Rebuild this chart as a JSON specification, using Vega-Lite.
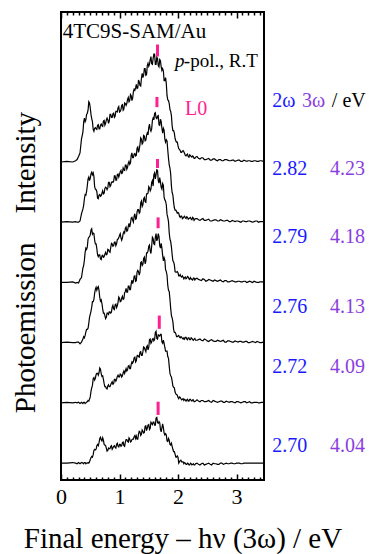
{
  "$schema": "https://vega.github.io/schema/vega-lite/v6.json",
  "width": 203,
  "height": 468,
  "autosize": {"type": "none"},
  "padding": {"left": 61, "top": 12, "right": 105, "bottom": 74},
  "background": "white",
  "config": {
    "view": {"stroke": "black", "strokeWidth": 2},
    "font": "Liberation Serif",
    "text": {"font": "Liberation Serif"}
  },
  "datasets": {
    "spectra": [
      {"x":0,"s0":0,"s1":0,"s2":0,"s3":0,"s4":0,"s5":0},
      {"x":0.1,"s0":0,"s1":0.01,"s2":0.01,"s3":0,"s4":0.01,"s5":0.01},
      {"x":0.2,"s0":0.01,"s1":0,"s2":0,"s3":0.01,"s4":0,"s5":0},
      {"x":0.25,"s0":0,"s1":0.01,"s2":0,"s3":-0.01,"s4":0.01,"s5":0.02},
      {"x":0.275,"s0":-0.01,"s1":0,"s2":0.01,"s3":0,"s4":0,"s5":0.04},
      {"x":0.3,"s0":0.01,"s1":0.01,"s2":0.01,"s3":-0.01,"s4":0,"s5":0.09},
      {"x":0.325,"s0":-0.01,"s1":-0.01,"s2":-0.02,"s3":0.05,"s4":0.02,"s5":0.15},
      {"x":0.35,"s0":0.01,"s1":0.01,"s2":0.01,"s3":0.08,"s4":0.14,"s5":0.38},
      {"x":0.375,"s0":0,"s1":-0.01,"s2":0.06,"s3":0.24,"s4":0.22,"s5":0.5},
      {"x":0.4,"s0":0.01,"s1":0.01,"s2":0.08,"s3":0.37,"s4":0.39,"s5":0.73},
      {"x":0.425,"s0":-0.01,"s1":0,"s2":0.18,"s3":0.57,"s4":0.45,"s5":0.7},
      {"x":0.45,"s0":0,"s1":0.02,"s2":0.22,"s3":0.59,"s4":0.61,"s5":0.81},
      {"x":0.475,"s0":0,"s1":0.03,"s2":0.32,"s3":0.75,"s4":0.75,"s5":1.0},
      {"x":0.5,"s0":0.06,"s1":0.1,"s2":0.47,"s3":0.79,"s4":0.73,"s5":0.9},
      {"x":0.525,"s0":0.11,"s1":0.25,"s2":0.59,"s3":0.89,"s4":0.83,"s5":0.72},
      {"x":0.55,"s0":0.14,"s1":0.4,"s2":0.68,"s3":0.82,"s4":0.82,"s5":0.54},
      {"x":0.575,"s0":0.23,"s1":0.38,"s2":0.82,"s3":0.7,"s4":0.59,"s5":0.56},
      {"x":0.6,"s0":0.23,"s1":0.47,"s2":0.92,"s3":0.64,"s4":0.54,"s5":0.55},
      {"x":0.625,"s0":0.31,"s1":0.49,"s2":0.91,"s3":0.46,"s4":0.4,"s5":0.61},
      {"x":0.65,"s0":0.34,"s1":0.5,"s2":0.87,"s3":0.46,"s4":0.45,"s5":0.55},
      {"x":0.675,"s0":0.43,"s1":0.56,"s2":0.69,"s3":0.39,"s4":0.43,"s5":0.61},
      {"x":0.7,"s0":0.37,"s1":0.44,"s2":0.65,"s3":0.44,"s4":0.48,"s5":0.6},
      {"x":0.725,"s0":0.38,"s1":0.39,"s2":0.49,"s3":0.42,"s4":0.47,"s5":0.68},
      {"x":0.75,"s0":0.3,"s1":0.27,"s2":0.45,"s3":0.47,"s4":0.56,"s5":0.61},
      {"x":0.775,"s0":0.25,"s1":0.24,"s2":0.42,"s3":0.46,"s4":0.57,"s5":0.7},
      {"x":0.8,"s0":0.21,"s1":0.28,"s2":0.49,"s3":0.55,"s4":0.57,"s5":0.7},
      {"x":0.825,"s0":0.24,"s1":0.27,"s2":0.51,"s3":0.51,"s4":0.66,"s5":0.68},
      {"x":0.85,"s0":0.28,"s1":0.3,"s2":0.49,"s3":0.58,"s4":0.61,"s5":0.79},
      {"x":0.875,"s0":0.23,"s1":0.35,"s2":0.59,"s3":0.64,"s4":0.67,"s5":0.74},
      {"x":0.9,"s0":0.28,"s1":0.32,"s2":0.56,"s3":0.61,"s4":0.68,"s5":0.81},
      {"x":0.925,"s0":0.26,"s1":0.39,"s2":0.63,"s3":0.67,"s4":0.77,"s5":0.76},
      {"x":0.95,"s0":0.31,"s1":0.39,"s2":0.58,"s3":0.64,"s4":0.7,"s5":0.84},
      {"x":0.975,"s0":0.28,"s1":0.46,"s2":0.67,"s3":0.72,"s4":0.8,"s5":0.9},
      {"x":1.0,"s0":0.31,"s1":0.43,"s2":0.74,"s3":0.78,"s4":0.79,"s5":0.83},
      {"x":1.025,"s0":0.28,"s1":0.47,"s2":0.69,"s3":0.74,"s4":0.86,"s5":0.87},
      {"x":1.05,"s0":0.34,"s1":0.45,"s2":0.77,"s3":0.74,"s4":0.82,"s5":0.95},
      {"x":1.075,"s0":0.29,"s1":0.53,"s2":0.73,"s3":0.84,"s4":0.87,"s5":0.88},
      {"x":1.1,"s0":0.35,"s1":0.53,"s2":0.85,"s3":0.9,"s4":0.95,"s5":0.97},
      {"x":1.125,"s0":0.39,"s1":0.53,"s2":0.84,"s3":0.85,"s4":0.88,"s5":0.97},
      {"x":1.15,"s0":0.35,"s1":0.61,"s2":0.94,"s3":0.93,"s4":0.98,"s5":1.07},
      {"x":1.175,"s0":0.4,"s1":0.57,"s2":0.88,"s3":0.92,"s4":0.96,"s5":1.02},
      {"x":1.2,"s0":0.36,"s1":0.64,"s2":0.98,"s3":1.07,"s4":1.11,"s5":1.1},
      {"x":1.225,"s0":0.4,"s1":0.66,"s2":0.98,"s3":1.03,"s4":1.07,"s5":1.06},
      {"x":1.25,"s0":0.44,"s1":0.75,"s2":1.1,"s3":1.1,"s4":1.13,"s5":1.21},
      {"x":1.275,"s0":0.41,"s1":0.68,"s2":1.02,"s3":1.05,"s4":1.1,"s5":1.23},
      {"x":1.3,"s0":0.4,"s1":0.78,"s2":1.17,"s3":1.17,"s4":1.23,"s5":1.22},
      {"x":1.325,"s0":0.48,"s1":0.77,"s2":1.18,"s3":1.21,"s4":1.16,"s5":1.36},
      {"x":1.35,"s0":0.52,"s1":0.84,"s2":1.17,"s3":1.17,"s4":1.29,"s5":1.27},
      {"x":1.375,"s0":0.48,"s1":0.79,"s2":1.34,"s3":1.35,"s4":1.38,"s5":1.39},
      {"x":1.4,"s0":0.53,"s1":0.85,"s2":1.3,"s3":1.29,"s4":1.32,"s5":1.4},
      {"x":1.425,"s0":0.51,"s1":0.92,"s2":1.42,"s3":1.41,"s4":1.43,"s5":1.55},
      {"x":1.45,"s0":0.62,"s1":0.85,"s2":1.35,"s3":1.33,"s4":1.36,"s5":1.44},
      {"x":1.475,"s0":0.58,"s1":0.95,"s2":1.49,"s3":1.47,"s4":1.48,"s5":1.6},
      {"x":1.5,"s0":0.64,"s1":0.92,"s2":1.6,"s3":1.59,"s4":1.57,"s5":1.59},
      {"x":1.525,"s0":0.58,"s1":1.06,"s2":1.52,"s3":1.52,"s4":1.54,"s5":1.7},
      {"x":1.55,"s0":0.66,"s1":1.01,"s2":1.6,"s3":1.66,"s4":1.55,"s5":1.63},
      {"x":1.575,"s0":0.68,"s1":1.07,"s2":1.73,"s3":1.6,"s4":1.73,"s5":1.72},
      {"x":1.6,"s0":0.63,"s1":1.05,"s2":1.63,"s3":1.82,"s4":1.81,"s5":1.79},
      {"x":1.625,"s0":0.75,"s1":1.19,"s2":1.81,"s3":1.79,"s4":1.73,"s5":1.62},
      {"x":1.65,"s0":0.67,"s1":1.06,"s2":1.72,"s3":1.86,"s4":1.76,"s5":1.72},
      {"x":1.675,"s0":0.69,"s1":1.12,"s2":1.76,"s3":1.65,"s4":1.62,"s5":1.58},
      {"x":1.7,"s0":0.56,"s1":1.14,"s2":1.57,"s3":1.67,"s4":1.71,"s5":1.68},
      {"x":1.725,"s0":0.59,"s1":1.01,"s2":1.57,"s3":1.55,"s4":1.56,"s5":1.52},
      {"x":1.75,"s0":0.59,"s1":1.04,"s2":1.36,"s3":1.61,"s4":1.56,"s5":1.51},
      {"x":1.775,"s0":0.47,"s1":0.92,"s2":1.37,"s3":1.37,"s4":1.38,"s5":1.35},
      {"x":1.8,"s0":0.47,"s1":0.86,"s2":1.18,"s3":1.29,"s4":1.37,"s5":1.3},
      {"x":1.825,"s0":0.36,"s1":0.77,"s2":0.95,"s3":1.08,"s4":1.2,"s5":1.03},
      {"x":1.85,"s0":0.38,"s1":0.61,"s2":0.85,"s3":0.82,"s4":0.95,"s5":0.97},
      {"x":1.875,"s0":0.3,"s1":0.45,"s2":0.57,"s3":0.68,"s4":0.8,"s5":0.84},
      {"x":1.9,"s0":0.28,"s1":0.36,"s2":0.41,"s3":0.46,"s4":0.49,"s5":0.6},
      {"x":1.925,"s0":0.19,"s1":0.26,"s2":0.22,"s3":0.34,"s4":0.33,"s5":0.52},
      {"x":1.95,"s0":0.15,"s1":0.18,"s2":0.17,"s3":0.18,"s4":0.2,"s5":0.39},
      {"x":1.975,"s0":0.1,"s1":0.14,"s2":0.1,"s3":0.17,"s4":0.18,"s5":0.33},
      {"x":2.0,"s0":0.1,"s1":0.09,"s2":0.11,"s3":0.16,"s4":0.16,"s5":0.27},
      {"x":2.025,"s0":0.02,"s1":0.1,"s2":0.09,"s3":0.11,"s4":0.1,"s5":0.21},
      {"x":2.05,"s0":0.05,"s1":0.07,"s2":0.1,"s3":0.1,"s4":0.1,"s5":0.16},
      {"x":2.075,"s0":0.02,"s1":0.06,"s2":0.07,"s3":0.11,"s4":0.06,"s5":0.18},
      {"x":2.1,"s0":-0.01,"s1":0.04,"s2":0.08,"s3":0.06,"s4":0.09,"s5":0.17},
      {"x":2.125,"s0":0,"s1":0.05,"s2":0.09,"s3":0.09,"s4":0.07,"s5":0.11},
      {"x":2.15,"s0":-0.02,"s1":0.05,"s2":0.06,"s3":0.07,"s4":0.09,"s5":0.12},
      {"x":2.175,"s0":-0.01,"s1":0.03,"s2":0.08,"s3":0.09,"s4":0.05,"s5":0.09},
      {"x":2.2,"s0":-0.03,"s1":0.06,"s2":0.05,"s3":0.05,"s4":0.07,"s5":0.12},
      {"x":2.225,"s0":-0.01,"s1":0.04,"s2":0.08,"s3":0.06,"s4":0.05,"s5":0.09},
      {"x":2.25,"s0":-0.02,"s1":0.05,"s2":0.05,"s3":0.04,"s4":0.08,"s5":0.1},
      {"x":2.275,"s0":-0.03,"s1":0.02,"s2":0.06,"s3":0.07,"s4":0.03,"s5":0.06},
      {"x":2.3,"s0":-0.01,"s1":0.03,"s2":0.04,"s3":0.06,"s4":0.06,"s5":0.08},
      {"x":2.35,"s0":-0.02,"s1":0.03,"s2":0.05,"s3":0.05,"s4":0.04,"s5":0.06},
      {"x":2.4,"s0":-0.01,"s1":0.04,"s2":0.04,"s3":0.03,"s4":0.05,"s5":0.07},
      {"x":2.45,"s0":-0.03,"s1":0.02,"s2":0.06,"s3":0.05,"s4":0.03,"s5":0.04},
      {"x":2.5,"s0":-0.01,"s1":0.03,"s2":0.03,"s3":0.03,"s4":0.04,"s5":0.05},
      {"x":2.55,"s0":-0.02,"s1":0.02,"s2":0.04,"s3":0.04,"s4":0.02,"s5":0.03},
      {"x":2.6,"s0":0,"s1":0.04,"s2":0.03,"s3":0.02,"s4":0.03,"s5":0.05},
      {"x":2.65,"s0":-0.01,"s1":0.02,"s2":0.02,"s3":0.03,"s4":0.04,"s5":0.03},
      {"x":2.7,"s0":-0.02,"s1":0.02,"s2":0.03,"s3":0.03,"s4":0.02,"s5":0.04},
      {"x":2.75,"s0":0,"s1":0.03,"s2":0.03,"s3":0.02,"s4":0.03,"s5":0.02},
      {"x":2.8,"s0":-0.01,"s1":0.01,"s2":0.01,"s3":0.03,"s4":0.02,"s5":0.04},
      {"x":2.85,"s0":-0.01,"s1":0.02,"s2":0.03,"s3":0.01,"s4":0.03,"s5":0.03},
      {"x":2.9,"s0":0,"s1":0.02,"s2":0.02,"s3":0.02,"s4":0.01,"s5":0.02},
      {"x":2.95,"s0":-0.01,"s1":0.01,"s2":0.01,"s3":0.02,"s4":0.02,"s5":0.03},
      {"x":3.0,"s0":0,"s1":0.02,"s2":0.02,"s3":0.01,"s4":0.02,"s5":0.02},
      {"x":3.05,"s0":0,"s1":0.01,"s2":0.02,"s3":0.02,"s4":0.01,"s5":0.03},
      {"x":3.1,"s0":-0.01,"s1":0.01,"s2":0.01,"s3":0.01,"s4":0.02,"s5":0.01},
      {"x":3.15,"s0":0,"s1":0.02,"s2":0.02,"s3":0.02,"s4":0.01,"s5":0.02},
      {"x":3.2,"s0":0,"s1":0.01,"s2":0,"s3":0.01,"s4":0.02,"s5":0.02},
      {"x":3.25,"s0":0,"s1":0,"s2":0.01,"s3":0.01,"s4":0.01,"s5":0.01},
      {"x":3.3,"s0":0,"s1":0.01,"s2":0.01,"s3":0.02,"s4":0.01,"s5":0.02},
      {"x":3.35,"s0":0,"s1":0.01,"s2":0.02,"s3":0,"s4":0.02,"s5":0.01},
      {"x":3.4,"s0":0,"s1":0,"s2":0,"s3":0.01,"s4":0.01,"s5":0.02},
      {"x":3.46,"s0":0,"s1":0.01,"s2":0.01,"s3":0.01,"s4":0.01,"s5":0.01},
      {"x":0.3875,"s0":-0.01,"s1":0.01,"s2":0.1,"s3":0.28,"s4":0.28,"s5":0.66},
      {"x":0.4125,"s0":0.01,"s1":-0.01,"s2":0.12,"s3":0.5,"s4":0.46,"s5":0.67},
      {"x":0.4375,"s0":0,"s1":0.01,"s2":0.22,"s3":0.55,"s4":0.51,"s5":0.79},
      {"x":0.4625,"s0":0.01,"s1":0.04,"s2":0.24,"s3":0.72,"s4":0.72,"s5":0.86},
      {"x":0.4875,"s0":0.02,"s1":0.06,"s2":0.42,"s3":0.76,"s4":0.69,"s5":0.98},
      {"x":0.5125,"s0":0.09,"s1":0.19,"s2":0.52,"s3":0.87,"s4":0.8,"s5":0.79},
      {"x":0.5375,"s0":0.1,"s1":0.29,"s2":0.68,"s3":0.8,"s4":0.79,"s5":0.67},
      {"x":0.5625,"s0":0.21,"s1":0.42,"s2":0.72,"s3":0.81,"s4":0.76,"s5":0.51},
      {"x":0.5875,"s0":0.22,"s1":0.41,"s2":0.89,"s3":0.64,"s4":0.55,"s5":0.57},
      {"x":0.6125,"s0":0.29,"s1":0.49,"s2":0.87,"s3":0.56,"s4":0.51,"s5":0.54},
      {"x":0.6375,"s0":0.29,"s1":0.46,"s2":0.93,"s3":0.43,"s4":0.39,"s5":0.62},
      {"x":0.6625,"s0":0.41,"s1":0.58,"s2":0.75,"s3":0.46,"s4":0.46,"s5":0.55},
      {"x":0.6875,"s0":0.39,"s1":0.48,"s2":0.71,"s3":0.38,"s4":0.44,"s5":0.63},
      {"x":0.7125,"s0":0.42,"s1":0.45,"s2":0.56,"s3":0.45,"s4":0.52,"s5":0.59},
      {"x":0.7375,"s0":0.31,"s1":0.32,"s2":0.49,"s3":0.43,"s4":0.48,"s5":0.69},
      {"x":0.7625,"s0":0.29,"s1":0.27,"s2":0.4,"s3":0.5,"s4":0.58,"s5":0.64},
      {"x":0.7875,"s0":0.2,"s1":0.23,"s2":0.49,"s3":0.47,"s4":0.54,"s5":0.73},
      {"x":0.8125,"s0":0.25,"s1":0.3,"s2":0.47,"s3":0.54,"s4":0.66,"s5":0.64},
      {"x":0.8375,"s0":0.24,"s1":0.27,"s2":0.51,"s3":0.5,"s4":0.59,"s5":0.79},
      {"x":0.8625,"s0":0.29,"s1":0.33,"s2":0.51,"s3":0.65,"s4":0.66,"s5":0.74},
      {"x":0.8875,"s0":0.25,"s1":0.31,"s2":0.62,"s3":0.6,"s4":0.66,"s5":0.8},
      {"x":0.9125,"s0":0.29,"s1":0.39,"s2":0.55,"s3":0.67,"s4":0.77,"s5":0.74},
      {"x":0.9375,"s0":0.25,"s1":0.36,"s2":0.64,"s3":0.61,"s4":0.7,"s5":0.84},
      {"x":0.9625,"s0":0.33,"s1":0.44,"s2":0.61,"s3":0.71,"s4":0.79,"s5":0.83},
      {"x":0.9875,"s0":0.27,"s1":0.43,"s2":0.76,"s3":0.74,"s4":0.75,"s5":0.92},
      {"x":1.0125,"s0":0.31,"s1":0.48,"s2":0.68,"s3":0.81,"s4":0.84,"s5":0.84},
      {"x":1.0375,"s0":0.29,"s1":0.43,"s2":0.74,"s3":0.7,"s4":0.81,"s5":0.94},
      {"x":1.0625,"s0":0.35,"s1":0.5,"s2":0.72,"s3":0.81,"s4":0.9,"s5":0.86},
      {"x":1.0875,"s0":0.28,"s1":0.49,"s2":0.83,"s3":0.82,"s4":0.86,"s5":0.98},
      {"x":1.1125,"s0":0.39,"s1":0.57,"s2":0.9,"s3":0.92,"s4":0.95,"s5":0.94},
      {"x":1.1375,"s0":0.36,"s1":0.55,"s2":0.84,"s3":0.86,"s4":0.91,"s5":1.04},
      {"x":1.1625,"s0":0.42,"s1":0.62,"s2":0.94,"s3":0.98,"s4":1.01,"s5":1.0},
      {"x":1.1875,"s0":0.35,"s1":0.57,"s2":0.88,"s3":0.98,"s4":0.98,"s5":1.12},
      {"x":1.2125,"s0":0.39,"s1":0.68,"s2":1.04,"s3":1.08,"s4":1.15,"s5":1.02},
      {"x":1.2375,"s0":0.4,"s1":0.69,"s2":1.02,"s3":1.0,"s4":1.07,"s5":1.17},
      {"x":1.2625,"s0":0.46,"s1":0.76,"s2":1.11,"s3":1.14,"s4":1.14,"s5":1.19},
      {"x":1.2875,"s0":0.45,"s1":0.7,"s2":1.03,"s3":1.06,"s4":1.11,"s5":1.29},
      {"x":1.3125,"s0":0.4,"s1":0.79,"s2":1.2,"s3":1.21,"s4":1.25,"s5":1.23},
      {"x":1.3375,"s0":0.53,"s1":0.76,"s2":1.12,"s3":1.15,"s4":1.21,"s5":1.33},
      {"x":1.3625,"s0":0.46,"s1":0.85,"s2":1.33,"s3":1.32,"s4":1.4,"s5":1.26},
      {"x":1.3875,"s0":0.55,"s1":0.79,"s2":1.28,"s3":1.26,"s4":1.3,"s5":1.47},
      {"x":1.4125,"s0":0.5,"s1":0.93,"s2":1.4,"s3":1.39,"s4":1.44,"s5":1.44},
      {"x":1.4375,"s0":0.61,"s1":0.88,"s2":1.31,"s3":1.34,"s4":1.35,"s5":1.55},
      {"x":1.4625,"s0":0.54,"s1":0.93,"s2":1.49,"s3":1.47,"s4":1.44,"s5":1.45},
      {"x":1.4875,"s0":0.63,"s1":0.88,"s2":1.52,"s3":1.48,"s4":1.45,"s5":1.64},
      {"x":1.5125,"s0":0.56,"s1":1.05,"s2":1.62,"s3":1.57,"s4":1.63,"s5":1.62},
      {"x":1.5375,"s0":0.68,"s1":0.99,"s2":1.48,"s3":1.55,"s4":1.51,"s5":1.75},
      {"x":1.5625,"s0":0.64,"s1":1.06,"s2":1.75,"s3":1.69,"s4":1.69,"s5":1.62},
      {"x":1.5875,"s0":0.68,"s1":1.03,"s2":1.64,"s3":1.79,"s4":1.7,"s5":1.79},
      {"x":1.6125,"s0":0.63,"s1":1.17,"s2":1.75,"s3":1.72,"s4":1.82,"s5":1.62},
      {"x":1.6375,"s0":0.76,"s1":1.07,"s2":1.69,"s3":1.87,"s4":1.72,"s5":1.74},
      {"x":1.6625,"s0":0.66,"s1":1.13,"s2":1.81,"s3":1.69,"s4":1.77,"s5":1.6},
      {"x":1.6875,"s0":0.67,"s1":1.11,"s2":1.61,"s3":1.74,"s4":1.61,"s5":1.7},
      {"x":1.7125,"s0":0.52,"s1":1.14,"s2":1.65,"s3":1.58,"s4":1.67,"s5":1.58},
      {"x":1.7375,"s0":0.65,"s1":0.99,"s2":1.45,"s3":1.64,"s4":1.48,"s5":1.55},
      {"x":1.7625,"s0":0.5,"s1":0.99,"s2":1.41,"s3":1.41,"s4":1.53,"s5":1.35},
      {"x":1.7875,"s0":0.49,"s1":0.86,"s2":1.21,"s3":1.35,"s4":1.33,"s5":1.4},
      {"x":1.8125,"s0":0.37,"s1":0.86,"s2":1.12,"s3":1.13,"s4":1.35,"s5":1.1},
      {"x":1.8375,"s0":0.41,"s1":0.74,"s2":0.87,"s3":1.01,"s4":1.06,"s5":1.02},
      {"x":1.8625,"s0":0.31,"s1":0.49,"s2":0.72,"s3":0.72,"s4":0.9,"s5":0.87},
      {"x":1.8875,"s0":0.33,"s1":0.43,"s2":0.45,"s3":0.59,"s4":0.6,"s5":0.77},
      {"x":1.9125,"s0":0.23,"s1":0.28,"s2":0.35,"s3":0.36,"s4":0.45,"s5":0.52},
      {"x":1.9375,"s0":0.19,"s1":0.25,"s2":0.17,"s3":0.29,"s4":0.24,"s5":0.48},
      {"x":1.9625,"s0":0.1,"s1":0.15,"s2":0.15,"s3":0.17,"s4":0.2,"s5":0.35},
      {"x":1.9875,"s0":0.12,"s1":0.13,"s2":0.1,"s3":0.18,"s4":0.15,"s5":0.33},
      {"x":2.0125,"s0":0,"s1":0.07,"s2":0.12,"s3":0.11,"s4":0.15,"s5":0.22},
      {"x":2.0375,"s0":0.04,"s1":0.09,"s2":0.08,"s3":0.13,"s4":0.08,"s5":0.19},
      {"x":2.0625,"s0":0.02,"s1":0.05,"s2":0.09,"s3":0.09,"s4":0.1,"s5":0.16},
      {"x":2.0875,"s0":0.02,"s1":0.07,"s2":0.06,"s3":0.09,"s4":0.07,"s5":0.19},
      {"x":2.1125,"s0":0.01,"s1":0.06,"s2":0.06,"s3":0.08,"s4":0.1,"s5":0.14},
      {"x":2.1375,"s0":-0.02,"s1":0.03,"s2":0.09,"s3":0.06,"s4":0.06,"s5":0.1},
      {"x":2.1625,"s0":0,"s1":0.06,"s2":0.05,"s3":0.1,"s4":0.08,"s5":0.13},
      {"x":2.1875,"s0":-0.03,"s1":0.03,"s2":0.08,"s3":0.06,"s4":0.06,"s5":0.08},
      {"x":2.2125,"s0":0,"s1":0.06,"s2":0.05,"s3":0.08,"s4":0.08,"s5":0.11},
      {"x":2.2375,"s0":-0.03,"s1":0.03,"s2":0.07,"s3":0.05,"s4":0.04,"s5":0.08},
      {"x":2.2625,"s0":-0.01,"s1":0.05,"s2":0.04,"s3":0.07,"s4":0.07,"s5":0.09},
      {"x":2.2875,"s0":-0.03,"s1":0.02,"s2":0.07,"s3":0.04,"s4":0.05,"s5":0.06},
      {"x":2.325,"s0":0,"s1":0.05,"s2":0.04,"s3":0.07,"s4":0.06,"s5":0.09},
      {"x":2.375,"s0":-0.03,"s1":0.02,"s2":0.06,"s3":0.04,"s4":0.03,"s5":0.05},
      {"x":2.425,"s0":0,"s1":0.04,"s2":0.03,"s3":0.06,"s4":0.06,"s5":0.07},
      {"x":2.475,"s0":-0.02,"s1":0.02,"s2":0.05,"s3":0.02,"s4":0.03,"s5":0.04},
      {"x":2.525,"s0":0,"s1":0.04,"s2":0.02,"s3":0.05,"s4":0.05,"s5":0.06},
      {"x":2.575,"s0":-0.03,"s1":0.01,"s2":0.05,"s3":0.03,"s4":0.02,"s5":0.03},
      {"x":2.625,"s0":-0.01,"s1":0.03,"s2":0.02,"s3":0.04,"s4":0.04,"s5":0.05},
      {"x":2.675,"s0":-0.02,"s1":0.01,"s2":0.04,"s3":0.02,"s4":0.02,"s5":0.02},
      {"x":2.725,"s0":0,"s1":0.03,"s2":0.02,"s3":0.04,"s4":0.04,"s5":0.04},
      {"x":2.775,"s0":-0.02,"s1":0.01,"s2":0.04,"s3":0.01,"s4":0.02,"s5":0.02},
      {"x":2.825,"s0":0,"s1":0.03,"s2":0.01,"s3":0.03,"s4":0.03,"s5":0.04},
      {"x":2.875,"s0":-0.01,"s1":0.01,"s2":0.03,"s3":0.01,"s4":0.01,"s5":0.02},
      {"x":2.925,"s0":0,"s1":0.02,"s2":0.01,"s3":0.03,"s4":0.03,"s5":0.03},
      {"x":2.975,"s0":-0.01,"s1":0,"s2":0.03,"s3":0.01,"s4":0.01,"s5":0.01},
      {"x":3.025,"s0":0,"s1":0.02,"s2":0.01,"s3":0.02,"s4":0.02,"s5":0.03},
      {"x":3.075,"s0":-0.01,"s1":0,"s2":0.02,"s3":0.01,"s4":0,"s5":0.01},
      {"x":3.125,"s0":0,"s1":0.02,"s2":0.01,"s3":0.02,"s4":0.02,"s5":0.03},
      {"x":3.175,"s0":0,"s1":0,"s2":0.02,"s3":0,"s4":0.01,"s5":0.01},
      {"x":3.225,"s0":0,"s1":0.02,"s2":0,"s3":0.02,"s4":0.02,"s5":0.02},
      {"x":3.275,"s0":0,"s1":0,"s2":0.02,"s3":0,"s4":0,"s5":0.01},
      {"x":3.325,"s0":0,"s1":0.01,"s2":0,"s3":0.01,"s4":0.02,"s5":0.02},
      {"x":3.375,"s0":0,"s1":0,"s2":0.01,"s3":0,"s4":0,"s5":0.01},
      {"x":3.425,"s0":0,"s1":0.01,"s2":0,"s3":0.01,"s4":0.01,"s5":0.02}
    ],
    "l0marks": [
      {"k":0,"x":1.66,"lo":0.8,"hi":1.02},
      {"k":1,"x":1.68,"lo":1.23,"hi":1.45},
      {"k":2,"x":1.66,"lo":1.9,"hi":2.08},
      {"k":3,"x":1.65,"lo":1.9,"hi":2.05},
      {"k":4,"x":1.64,"lo":1.91,"hi":2.08},
      {"k":5,"x":1.65,"lo":1.75,"hi":1.95}
    ]
  },
  "layer": [
    {
      "data": {"name": "spectra"},
      "transform": [
        {"fold": ["s0","s1","s2","s3","s4","s5"], "as": ["k","v"]},
        {"calculate": "datum.v + toNumber(substring(datum.k, 1))", "as": "y"}
      ],
      "mark": {"type": "line", "color": "black", "strokeWidth": 1.2, "interpolate": "linear"},
      "encoding": {
        "x": {"field": "x", "type": "quantitative",
          "scale": {"domain": [0, 3.47], "nice": false, "zero": false},
          "axis": {"orient": "bottom", "title": null, "grid": false, "domain": false,
            "values": [0,0.1,0.2,0.3,0.4,0.5,0.6,0.7,0.8,0.9,1,1.1,1.2,1.3,1.4,1.5,1.6,1.7,1.8,1.9,2,2.1,2.2,2.3,2.4,2.5,2.6,2.7,2.8,2.9,3,3.1,3.2,3.3,3.4],
            "tickSize": -6, "tickColor": "black", "tickWidth": 1.5,
            "tickDash": {"condition": {"test": "abs(datum.value - round(datum.value)) < 0.001", "value": [10, 10]}, "value": [3, 10]},
            "labelExpr": "abs(datum.value - round(datum.value)) < 0.001 ? format(datum.value, 'd') : ''",
            "labelFont": "Liberation Serif", "labelFontSize": 22, "labelColor": "black",
            "labelPadding": 12, "labelFlush": false, "labelOverlap": false}},
        "y": {"field": "y", "type": "quantitative",
          "scale": {"domain": [-0.28, 7.49], "nice": false, "zero": false}, "axis": null},
        "detail": {"field": "k"}
      }
    },
    {
      "data": {"name": "l0marks"},
      "transform": [
        {"calculate": "datum.lo + datum.k", "as": "y1"},
        {"calculate": "datum.hi + datum.k", "as": "y2"}
      ],
      "mark": {"type": "rule", "color": "#ff1f8f", "strokeWidth": 3},
      "encoding": {
        "x": {"field": "x", "type": "quantitative",
          "scale": {"domain": [0, 3.47], "nice": false, "zero": false},
          "axis": {"orient": "top", "title": null, "grid": false, "domain": false, "labels": false,
            "values": [0,0.1,0.2,0.3,0.4,0.5,0.6,0.7,0.8,0.9,1,1.1,1.2,1.3,1.4,1.5,1.6,1.7,1.8,1.9,2,2.1,2.2,2.3,2.4,2.5,2.6,2.7,2.8,2.9,3,3.1,3.2,3.3,3.4],
            "tickSize": -6, "tickColor": "black", "tickWidth": 1.5,
            "tickDash": {"condition": {"test": "abs(datum.value - round(datum.value)) < 0.001", "value": [10, 10]}, "value": [3, 10]}}},
        "y": {"field": "y1", "type": "quantitative",
          "scale": {"domain": [-0.28, 7.49], "nice": false, "zero": false}, "axis": null},
        "y2": {"field": "y2"}
      }
    },
    {
      "data": {"values": [
        {"t":"2ω","x":3.61,"y":5.91},
        {"t":"2.82","x":3.61,"y":4.78},
        {"t":"2.79","x":3.61,"y":3.65},
        {"t":"2.76","x":3.61,"y":2.49},
        {"t":"2.72","x":3.61,"y":1.49},
        {"t":"2.70","x":3.61,"y":0.18}
      ]},
      "mark": {"type": "text", "font": "Liberation Serif", "fontSize": 20, "color": "#1a1aff", "align": "left", "baseline": "alphabetic"},
      "encoding": {
        "x": {"field": "x", "type": "quantitative", "scale": {"domain": [0, 3.47], "nice": false, "zero": false}, "axis": null},
        "y": {"field": "y", "type": "quantitative", "scale": {"domain": [-0.28, 7.49], "nice": false, "zero": false}, "axis": null},
        "text": {"field": "t"}
      }
    },
    {
      "data": {"values": [
        {"t":"3ω","x":4.12,"y":5.91},
        {"t":"4.23","x":4.6,"y":4.78},
        {"t":"4.18","x":4.6,"y":3.65},
        {"t":"4.13","x":4.6,"y":2.49},
        {"t":"4.09","x":4.6,"y":1.49},
        {"t":"4.04","x":4.6,"y":0.18}
      ]},
      "mark": {"type": "text", "font": "Liberation Serif", "fontSize": 20, "color": "#8a3ee0", "align": "left", "baseline": "alphabetic"},
      "encoding": {
        "x": {"field": "x", "type": "quantitative", "scale": {"domain": [0, 3.47], "nice": false, "zero": false}, "axis": null},
        "y": {"field": "y", "type": "quantitative", "scale": {"domain": [-0.28, 7.49], "nice": false, "zero": false}, "axis": null},
        "text": {"field": "t"}
      }
    },
    {
      "data": {"values": [
        {"t":"/ eV","x":4.63,"y":5.91}
      ]},
      "mark": {"type": "text", "font": "Liberation Serif", "fontSize": 20, "color": "black", "align": "left", "baseline": "alphabetic"},
      "encoding": {
        "x": {"field": "x", "type": "quantitative", "scale": {"domain": [0, 3.47], "nice": false, "zero": false}, "axis": null},
        "y": {"field": "y", "type": "quantitative", "scale": {"domain": [-0.28, 7.49], "nice": false, "zero": false}, "axis": null},
        "text": {"field": "t"}
      }
    },
    {
      "data": {"values": [
        {"t":"L0","x":2.12,"y":5.78}
      ]},
      "mark": {"type": "text", "font": "Liberation Serif", "fontSize": 20, "color": "#ff1f8f", "align": "left", "baseline": "alphabetic"},
      "encoding": {
        "x": {"field": "x", "type": "quantitative", "scale": {"domain": [0, 3.47], "nice": false, "zero": false}, "axis": null},
        "y": {"field": "y", "type": "quantitative", "scale": {"domain": [-0.28, 7.49], "nice": false, "zero": false}, "axis": null},
        "text": {"field": "t"}
      }
    },
    {
      "data": {"values": [
        {"t":"4TC9S-SAM/Au","x":0.03,"y":7.06}
      ]},
      "mark": {"type": "text", "font": "Liberation Serif", "fontSize": 21, "color": "black", "align": "left", "baseline": "alphabetic"},
      "encoding": {
        "x": {"field": "x", "type": "quantitative", "scale": {"domain": [0, 3.47], "nice": false, "zero": false}, "axis": null},
        "y": {"field": "y", "type": "quantitative", "scale": {"domain": [-0.28, 7.49], "nice": false, "zero": false}, "axis": null},
        "text": {"field": "t"}
      }
    },
    {
      "data": {"values": [
        {"t":"p","x":1.95,"y":6.57}
      ]},
      "mark": {"type": "text", "font": "Liberation Serif", "fontSize": 19, "fontStyle": "italic", "color": "black", "align": "left", "baseline": "alphabetic"},
      "encoding": {
        "x": {"field": "x", "type": "quantitative", "scale": {"domain": [0, 3.47], "nice": false, "zero": false}, "axis": null},
        "y": {"field": "y", "type": "quantitative", "scale": {"domain": [-0.28, 7.49], "nice": false, "zero": false}, "axis": null},
        "text": {"field": "t"}
      }
    },
    {
      "data": {"values": [
        {"t":"-pol., R.T","x":2.1,"y":6.57}
      ]},
      "mark": {"type": "text", "font": "Liberation Serif", "fontSize": 19, "color": "black", "align": "left", "baseline": "alphabetic"},
      "encoding": {
        "x": {"field": "x", "type": "quantitative", "scale": {"domain": [0, 3.47], "nice": false, "zero": false}, "axis": null},
        "y": {"field": "y", "type": "quantitative", "scale": {"domain": [-0.28, 7.49], "nice": false, "zero": false}, "axis": null},
        "text": {"field": "t"}
      }
    },
    {
      "data": {"values": [
        {"t":"Photoemission\u00a0\u00a0\u00a0\u00a0Intensity","x":-0.444,"y":3.33}
      ]},
      "mark": {"type": "text", "font": "Liberation Serif", "fontSize": 29, "color": "black", "align": "center", "baseline": "alphabetic", "angle": 270},
      "encoding": {
        "x": {"field": "x", "type": "quantitative", "scale": {"domain": [0, 3.47], "nice": false, "zero": false}, "axis": null},
        "y": {"field": "y", "type": "quantitative", "scale": {"domain": [-0.28, 7.49], "nice": false, "zero": false}, "axis": null},
        "text": {"field": "t"}
      }
    },
    {
      "data": {"values": [
        {"t":"Final energy – hν (3ω) / eV","x":2.085,"y":-1.41}
      ]},
      "mark": {"type": "text", "font": "Liberation Serif", "fontSize": 29, "color": "black", "align": "center", "baseline": "alphabetic"},
      "encoding": {
        "x": {"field": "x", "type": "quantitative", "scale": {"domain": [0, 3.47], "nice": false, "zero": false}, "axis": null},
        "y": {"field": "y", "type": "quantitative", "scale": {"domain": [-0.28, 7.49], "nice": false, "zero": false}, "axis": null},
        "text": {"field": "t"}
      }
    }
  ],
  "resolve": {"axis": {"x": "independent"}}
}
